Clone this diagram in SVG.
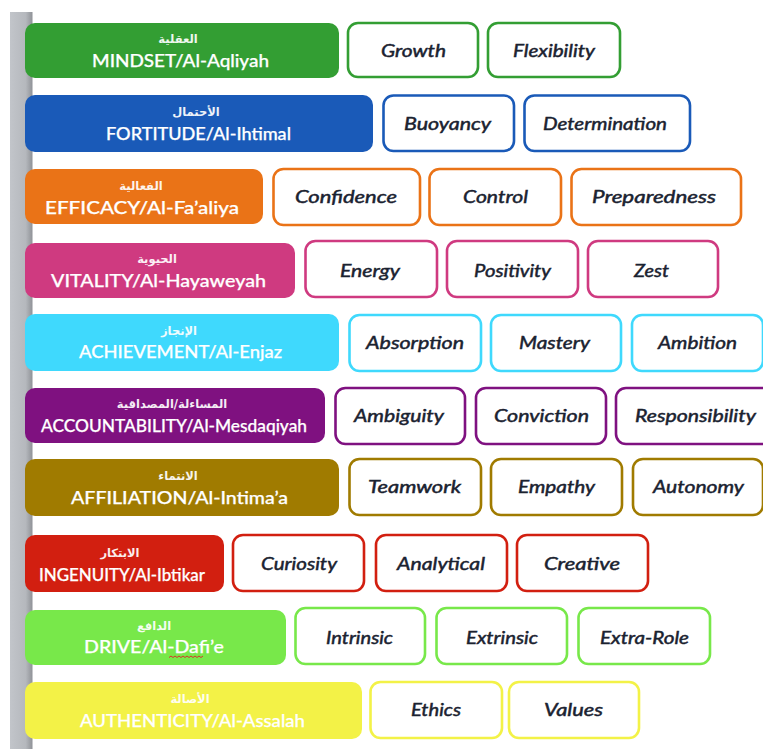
<svg xmlns="http://www.w3.org/2000/svg" width="763" height="749" viewBox="0 0 763 749">
<style>
.h{stroke:none}
.b{fill:#fff;stroke-width:2.6}
.ar{font-family:"DejaVu Sans","Noto Sans",sans-serif;font-size:11.500px;font-weight:bold;fill:#fff;text-anchor:middle;opacity:.92}
.en{font-family:"Lato","Open Sans","Liberation Sans",sans-serif;font-size:17px;font-weight:500;stroke:#fff;stroke-width:.25;fill:#fff;text-anchor:middle}
.t{font-family:"Lato","Open Sans","Liberation Sans",sans-serif;font-size:17px;font-weight:400;font-style:italic;stroke:#1a2230;stroke-width:.45;fill:#1a2230;text-anchor:middle}
.green{fill:#339e33}.sgreen{stroke:#339e33}
.blue{fill:#1a5ab8}.sblue{stroke:#1a5ab8}
.orange{fill:#ea7317}.sorange{stroke:#ea7317}
.pink{fill:#cf3a80}.spink{stroke:#cf3a80}
.cyan{fill:#3fd9fd}.scyan{stroke:#3fd9fd}
.purple{fill:#7f1180}.spurple{stroke:#7f1180}
.olive{fill:#a07b00}.solive{stroke:#a07b00}
.red{fill:#d21f10}.sred{stroke:#d21f10}
.lime{fill:#78e84a}.slime{stroke:#78e84a}
.yellow{fill:#f3f247}.syellow{stroke:#f3f247}
</style>
<defs>
<linearGradient id="bar" x1="0" y1="0" x2="1" y2="0">
<stop offset="0" stop-color="#c2c5ca"/><stop offset="0.7" stop-color="#b5b8bd"/><stop offset="1" stop-color="#8f9297"/>
</linearGradient>
</defs>
<rect id="side-bar" x="10" y="12" width="22.5" height="737" fill="url(#bar)"/>

<g id="mindset">
<rect class="h green" x="25" y="23" width="314" height="55" rx="10"/>
<text class="ar" x="178" y="43">العقلية</text>
<text class="en" x="180.500" y="67" textLength="177" lengthAdjust="spacingAndGlyphs">MINDSET/Al-Aqliyah</text>
<g class="sgreen">
<rect class="b" x="348" y="23" width="130" height="54" rx="10"/>
<rect class="b" x="488" y="23" width="132" height="54" rx="10"/>
</g>
<text class="t" x="413.500" y="57" textLength="65" lengthAdjust="spacingAndGlyphs">Growth</text>
<text class="t" x="554" y="57" textLength="82" lengthAdjust="spacingAndGlyphs">Flexibility</text>
</g>

<g id="fortitude">
<rect class="h blue" x="25" y="95" width="348" height="57" rx="10"/>
<text class="ar" x="196" y="116">الأحتمال</text>
<text class="en" x="198.500" y="140" textLength="185" lengthAdjust="spacingAndGlyphs">FORTITUDE/Al-Ihtimal</text>
<g class="sblue">
<rect class="b" x="383.500" y="95.500" width="130.500" height="55.500" rx="10"/>
<rect class="b" x="524.500" y="95.500" width="165.500" height="55.500" rx="10"/>
</g>
<text class="t" x="447.500" y="130" textLength="87" lengthAdjust="spacingAndGlyphs">Buoyancy</text>
<text class="t" x="605" y="130" textLength="124" lengthAdjust="spacingAndGlyphs">Determination</text>
</g>

<g id="efficacy">
<rect class="h orange" x="25" y="169" width="238" height="55" rx="10"/>
<text class="ar" x="141" y="190">الفعالية</text>
<text class="en" x="142" y="214" textLength="194" lengthAdjust="spacingAndGlyphs">EFFICACY/Al-Fa’aliya</text>
<g class="sorange">
<rect class="b" x="273.500" y="169" width="146.500" height="56" rx="10"/>
<rect class="b" x="429.500" y="169" width="131.500" height="56" rx="10"/>
<rect class="b" x="571.500" y="169" width="169.500" height="56" rx="10"/>
</g>
<text class="t" x="346" y="203" textLength="102" lengthAdjust="spacingAndGlyphs">Confidence</text>
<text class="t" x="495.500" y="203" textLength="65" lengthAdjust="spacingAndGlyphs">Control</text>
<text class="t" x="654" y="203" textLength="124" lengthAdjust="spacingAndGlyphs">Preparedness</text>
</g>

<g id="vitality">
<rect class="h pink" x="25" y="243" width="270" height="55" rx="10"/>
<text class="ar" x="157" y="263">الحيوية</text>
<text class="en" x="158.500" y="287" textLength="215" lengthAdjust="spacingAndGlyphs">VITALITY/Al-Hayaweyah</text>
<g class="spink">
<rect class="b" x="305.500" y="241" width="131.500" height="56" rx="10"/>
<rect class="b" x="447" y="241" width="131" height="56" rx="10"/>
<rect class="b" x="588" y="241" width="130" height="56" rx="10"/>
</g>
<text class="t" x="370" y="277" textLength="60" lengthAdjust="spacingAndGlyphs">Energy</text>
<text class="t" x="512.500" y="277" textLength="77" lengthAdjust="spacingAndGlyphs">Positivity</text>
<text class="t" x="651.500" y="277" textLength="35" lengthAdjust="spacingAndGlyphs">Zest</text>
</g>

<g id="achievement">
<rect class="h cyan" x="25" y="314" width="314" height="57" rx="10"/>
<text class="ar" x="179" y="335">الإنجاز</text>
<text class="en" x="180.500" y="358" textLength="203" lengthAdjust="spacingAndGlyphs">ACHIEVEMENT/Al-Enjaz</text>
<g class="scyan">
<rect class="b" x="349.500" y="315" width="131.500" height="56" rx="10"/>
<rect class="b" x="491" y="315" width="130" height="56" rx="10"/>
<rect class="b" x="632" y="315" width="131" height="56" rx="10"/>
</g>
<text class="t" x="415" y="349" textLength="98" lengthAdjust="spacingAndGlyphs">Absorption</text>
<text class="t" x="554.500" y="349" textLength="71" lengthAdjust="spacingAndGlyphs">Mastery</text>
<text class="t" x="697.500" y="349" textLength="79" lengthAdjust="spacingAndGlyphs">Ambition</text>
</g>

<g id="accountability">
<rect class="h purple" x="25" y="388" width="300" height="55" rx="10"/>
<text class="ar" x="172" y="408">المساءلة/المصداقية</text>
<text class="en" x="174" y="432" textLength="266" lengthAdjust="spacingAndGlyphs">ACCOUNTABILITY/Al-Mesdaqiyah</text>
<g class="spurple">
<rect class="b" x="335.500" y="388" width="129.500" height="56" rx="10"/>
<rect class="b" x="476" y="388" width="130" height="56" rx="10"/>
<rect class="b" x="616" y="388" width="160" height="56" rx="10"/>
</g>
<text class="t" x="399" y="422" textLength="90" lengthAdjust="spacingAndGlyphs">Ambiguity</text>
<text class="t" x="541.500" y="422" textLength="95" lengthAdjust="spacingAndGlyphs">Conviction</text>
<text class="t" x="695.500" y="422" textLength="121" lengthAdjust="spacingAndGlyphs">Responsibility</text>
</g>

<g id="affiliation">
<rect class="h olive" x="25" y="459" width="314" height="57" rx="10"/>
<text class="ar" x="178" y="480">الانتماء</text>
<text class="en" x="179.500" y="504" textLength="217" lengthAdjust="spacingAndGlyphs">AFFILIATION/Al-Intima’a</text>
<g class="solive">
<rect class="b" x="349.500" y="459" width="131.500" height="56" rx="10"/>
<rect class="b" x="491" y="459" width="131" height="56" rx="10"/>
<rect class="b" x="633" y="459" width="130" height="56" rx="10"/>
</g>
<text class="t" x="414.500" y="493" textLength="93" lengthAdjust="spacingAndGlyphs">Teamwork</text>
<text class="t" x="556.500" y="493" textLength="77" lengthAdjust="spacingAndGlyphs">Empathy</text>
<text class="t" x="698.500" y="493" textLength="91" lengthAdjust="spacingAndGlyphs">Autonomy</text>
</g>

<g id="ingenuity">
<rect class="h red" x="25" y="535" width="199" height="57" rx="10"/>
<text class="ar" x="120" y="557">الابتكار</text>
<text class="en" x="122" y="581" textLength="166" lengthAdjust="spacingAndGlyphs">INGENUITY/Al-Ibtikar</text>
<g class="sred">
<rect class="b" x="233" y="535" width="131" height="56" rx="10"/>
<rect class="b" x="376" y="535" width="131" height="56" rx="10"/>
<rect class="b" x="517" y="535" width="131" height="56" rx="10"/>
</g>
<text class="t" x="299" y="570" textLength="76" lengthAdjust="spacingAndGlyphs">Curiosity</text>
<text class="t" x="441" y="570" textLength="88" lengthAdjust="spacingAndGlyphs">Analytical</text>
<text class="t" x="582" y="570" textLength="76" lengthAdjust="spacingAndGlyphs">Creative</text>
</g>

<g id="drive">
<rect class="h lime" x="25" y="610" width="261" height="55" rx="10"/>
<text class="ar" x="154" y="630">الدافع</text>
<text class="en" x="154" y="653" textLength="140" lengthAdjust="spacingAndGlyphs">DRIVE/Al-Dafi’e</text>
<path d="M169 657.500l2-1.500 2 1.500 2-1.500 2 1.500 2-1.500 2 1.500 2-1.500 2 1.500 2-1.500 2 1.500 2-1.500 2 1.500 2-1.500 2 1.500 2-1.500 2 1.500 2-1.500" fill="none" stroke="#d8352a" stroke-width="1"/>
<g class="slime">
<rect class="b" x="295.500" y="608" width="129.500" height="56" rx="10"/>
<rect class="b" x="436.500" y="608" width="130.500" height="56" rx="10"/>
<rect class="b" x="578.500" y="608" width="131.500" height="56" rx="10"/>
</g>
<text class="t" x="359.500" y="644" textLength="67" lengthAdjust="spacingAndGlyphs">Intrinsic</text>
<text class="t" x="502" y="644" textLength="72" lengthAdjust="spacingAndGlyphs">Extrinsic</text>
<text class="t" x="644.500" y="644" textLength="89" lengthAdjust="spacingAndGlyphs">Extra-Role</text>
</g>

<g id="authenticity">
<rect class="h yellow" x="25" y="682" width="337" height="57" rx="10"/>
<text class="ar" x="190" y="703">الأصالة</text>
<text class="en" x="192.500" y="727" textLength="225" lengthAdjust="spacingAndGlyphs">AUTHENTICITY/Al-Assalah</text>
<g class="syellow">
<rect class="b" x="370.500" y="682" width="131.500" height="56" rx="10"/>
<rect class="b" x="509" y="682" width="130" height="56" rx="10"/>
</g>
<text class="t" x="436" y="716" textLength="50" lengthAdjust="spacingAndGlyphs">Ethics</text>
<text class="t" x="573.500" y="716" textLength="59" lengthAdjust="spacingAndGlyphs">Values</text>
</g>
</svg>
